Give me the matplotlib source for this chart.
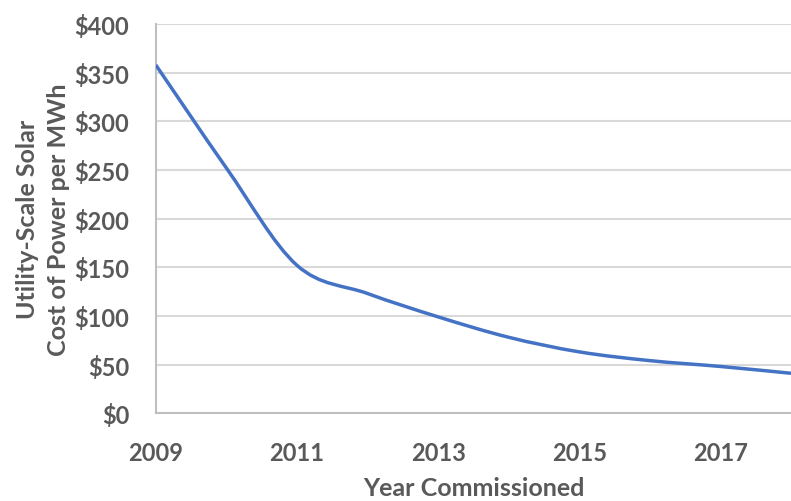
import numpy as np
import matplotlib.pyplot as plt
from matplotlib.path import Path
from matplotlib.patches import PathPatch

years = [2009, 2010, 2011, 2012, 2013, 2014, 2015, 2016, 2017, 2018]
cost = [358, 252, 152, 123, 99, 78, 63, 54, 48, 41]
y_ticks = [0, 50, 100, 150, 200, 250, 300, 350, 400]
x_ticks = [2009, 2011, 2013, 2015, 2017]

text_color = '#595959'
plt.rcParams['font.family'] = ['Lato', 'DejaVu Sans']
plt.rcParams['font.weight'] = 'bold'

fig = plt.figure(figsize=(7.91, 5.02), dpi=100)
ax = fig.add_axes([0.197, 0.175, 0.803, 0.775])

# smoothed line like Excel (bezier through the points)
x = np.array(years, dtype=float)
y = np.array(cost, dtype=float)
verts = [(x[0], y[0])]
codes = [Path.MOVETO]
n = len(x)
for i in range(n - 1):
    x0, y0 = (x[i - 1], y[i - 1]) if i > 0 else (x[i], y[i])
    x3, y3 = (x[i + 2], y[i + 2]) if i + 2 < n else (x[i + 1], y[i + 1])
    c1 = (x[i] + (x[i + 1] - x0) / 6, y[i] + (y[i + 1] - y0) / 6)
    c2 = (x[i + 1] - (x3 - x[i]) / 6, y[i + 1] - (y3 - y[i]) / 6)
    verts += [c1, c2, (x[i + 1], y[i + 1])]
    codes += [Path.CURVE4] * 3
ax.add_patch(PathPatch(Path(verts, codes), facecolor='none',
                       edgecolor='#4472C4', linewidth=2.5, zorder=3))

ax.set_xlim(2009, 2018)
ax.set_ylim(0, 400)
ax.set_yticks(y_ticks)
ax.set_yticklabels(['$' + str(v) for v in y_ticks])
ax.set_xticks(x_ticks)
ax.set_xticklabels([str(v) for v in x_ticks])
ax.grid(axis='y', color='#d9d9d9', linewidth=1.5)
ax.set_axisbelow(True)
ax.tick_params(length=0, labelsize=17, labelcolor=text_color)
ax.tick_params(axis='y', pad=19)
ax.tick_params(axis='x', pad=20)

for s in ['top', 'right']:
    ax.spines[s].set_visible(False)
for s in ['left', 'bottom']:
    ax.spines[s].set_color('#bfbfbf')
    ax.spines[s].set_linewidth(1.5)

ax.set_ylabel('Utility-Scale Solar\nCost of Power per MWh', fontsize=18,
              fontweight='bold', color=text_color, labelpad=3, linespacing=1.42)
ax.set_xlabel('Year Commissioned', fontsize=18, fontweight='bold',
              color=text_color, labelpad=9)

fig.savefig('out.png', dpi=100)
